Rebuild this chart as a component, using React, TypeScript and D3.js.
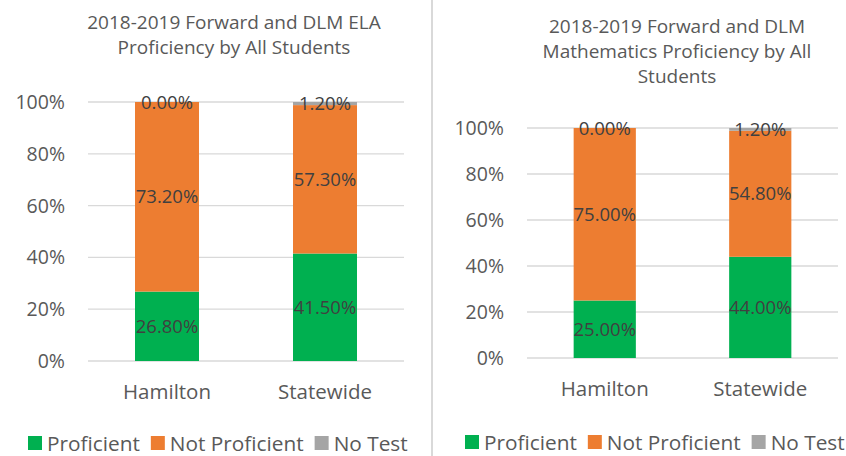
import { useEffect, useRef } from "react";
import * as d3 from "d3";

const categories = ["Hamilton", "Statewide"];
const seriesNames = ["Proficient", "Not Proficient", "No Test"];
const seriesColors = ["#00b050", "#ed7d31", "#a5a5a5"];
const yTicks = [0, 0.2, 0.4, 0.6, 0.8, 1];

// ELA values per category (Proficient, Not Proficient, No Test)
const elaProficient = [26.8, 41.5];
const elaNotProficient = [73.2, 57.3];
const elaNoTest = [0.0, 1.2];

// Mathematics values
const mathProficient = [25.0, 44.0];
const mathNotProficient = [75.0, 54.8];
const mathNoTest = [0.0, 1.2];

const elaTitle = ["2018-2019 Forward and DLM ELA", "Proficiency by All Students"];
const mathTitle = ["2018-2019 Forward and DLM", "Mathematics Proficiency by All", "Students"];

const FONT = "'Open Sans', Lato, sans-serif";
const TEXT = "#595959";
const LABEL = "#404040";

type Layout = {
  titleX: number;
  titleY: number;
  plotLeft: number;
  plotRight: number;
  plotTop: number;
  plotBottom: number;
  barPad: number;
  catY: number;
  legendX: number;
  legendY: number;
};

function drawChart(
  g: d3.Selection<SVGGElement, unknown, null, undefined>,
  title: string[],
  values: number[][],
  L: Layout
) {
  // title
  g.append("text")
    .attr("x", L.titleX)
    .attr("y", L.titleY)
    .attr("text-anchor", "middle")
    .style("font-size", "19px")
    .attr("fill", TEXT)
    .selectAll("tspan")
    .data(title)
    .join("tspan")
    .attr("x", L.titleX)
    .attr("dy", (d, i) => (i === 0 ? 0 : 25))
    .text(d => d);

  const x = d3.scaleBand()
    .domain(categories)
    .range([L.plotLeft, L.plotRight])
    .paddingInner(L.barPad)
    .paddingOuter(L.barPad / 2);

  const y = d3.scaleLinear().domain([0, 1]).range([L.plotBottom, L.plotTop]);

  // gridlines
  g.selectAll("line.grid")
    .data(yTicks)
    .join("line")
    .attr("x1", L.plotLeft)
    .attr("x2", L.plotRight)
    .attr("y1", d => y(d))
    .attr("y2", d => y(d))
    .attr("stroke", "#d9d9d9")
    .attr("stroke-width", 1.3);

  // y tick labels
  g.selectAll("text.ytick")
    .data(yTicks)
    .join("text")
    .attr("x", L.plotLeft - 23)
    .attr("y", d => y(d))
    .attr("dy", "0.36em")
    .attr("text-anchor", "end")
    .style("font-size", "19.5px")
    .attr("fill", TEXT)
    .text(d => d3.format(".0%")(d));

  // stack
  const rows = categories.map((c, i) => {
    const r: any = { cat: c };
    seriesNames.forEach((s, j) => (r[s] = values[j][i]));
    return r;
  });
  const stacked = d3.stack<any>().keys(seriesNames)(rows);

  stacked.forEach((layer, j) => {
    g.selectAll(`rect.s${j}`)
      .data(layer)
      .join("rect")
      .attr("x", d => x(d.data.cat)!)
      .attr("width", x.bandwidth())
      .attr("y", d => y(d[1] / 100))
      .attr("height", d => y(d[0] / 100) - y(d[1] / 100))
      .attr("fill", seriesColors[j]);
  });

  stacked.forEach((layer, j) => {
    g.selectAll(`text.v${j}`)
      .data(layer)
      .join("text")
      .attr("x", d => x(d.data.cat)! + x.bandwidth() / 2)
      .attr("y", d => y((d[0] + d[1]) / 200))
      .attr("dy", "0.36em")
      .attr("text-anchor", "middle")
      .style("font-size", "18.5px")
      .attr("fill", LABEL)
      .text(d => (d[1] - d[0]).toFixed(2) + "%");
  });

  // category labels
  g.selectAll("text.cat")
    .data(categories)
    .join("text")
    .attr("x", d => x(d)! + x.bandwidth() / 2)
    .attr("y", L.catY)
    .attr("dy", "0.36em")
    .attr("text-anchor", "middle")
    .style("font-size", "20.5px")
    .attr("fill", TEXT)
    .text(d => d);

  // legend
  const leg = g.append("g").attr("transform", `translate(${L.legendX},${L.legendY})`);
  let cx = 0;
  seriesNames.forEach((s, j) => {
    leg.append("rect")
      .attr("x", cx)
      .attr("y", -7)
      .attr("width", 14)
      .attr("height", 14)
      .attr("fill", seriesColors[j]);
    const t = leg.append("text")
      .attr("x", cx + 19)
      .attr("y", 0)
      .attr("dy", "0.36em")
      .style("font-size", "20.8px")
      .attr("fill", TEXT)
      .text(s);
    const w = (t.node() as SVGTextElement).getComputedTextLength();
    cx += 19 + w + 11;
  });
}

export default function App() {
  const ref = useRef<SVGSVGElement>(null);

  useEffect(() => {
    const svg = d3.select(ref.current);
    svg.selectAll("*").remove();
    svg.style("font-family", FONT);

    svg.append("rect").attr("width", 846).attr("height", 456).attr("fill", "#fff");

    drawChart(
      svg.append("g"),
      elaTitle,
      [elaProficient, elaNotProficient, elaNoTest],
      {
        titleX: 234, titleY: 29,
        plotLeft: 88, plotRight: 404, plotTop: 102, plotBottom: 361,
        barPad: 0.595, catY: 392, legendX: 28, legendY: 443,
      }
    );

    // divider between the two charts
    svg.append("line")
      .attr("x1", 432).attr("x2", 432)
      .attr("y1", 0).attr("y2", 456)
      .attr("stroke", "#d9d9d9")
      .attr("stroke-width", 2);

    drawChart(
      svg.append("g"),
      mathTitle,
      [mathProficient, mathNotProficient, mathNoTest],
      {
        titleX: 677, titleY: 33,
        plotLeft: 527, plotRight: 838, plotTop: 128, plotBottom: 358,
        barPad: 0.6, catY: 389, legendX: 465, legendY: 442,
      }
    );
  }, []);

  return (
    <svg
      ref={ref}
      width={846}
      height={456}
      style={{ position: "absolute", left: 0, top: 0 }}
    />
  );
}
